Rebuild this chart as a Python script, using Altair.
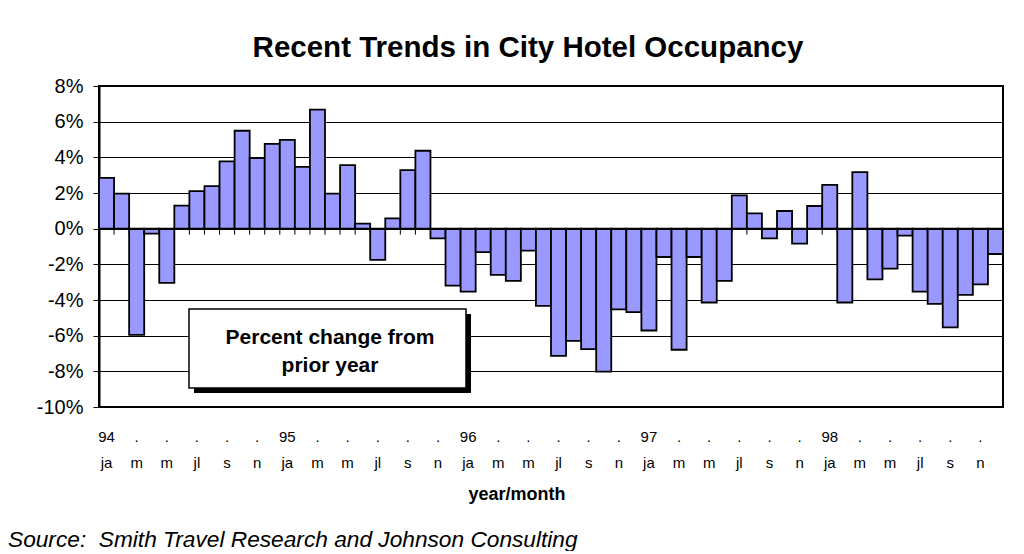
import altair as alt
import pandas as pd

# ---- data ----
years = ["94", "95", "96", "97", "98"]
months_shown = ["ja", "m", "m", "jl", "s", "n"]
values = [
    2.85, 1.96, -5.95, -0.28, -3.04, 1.29, 2.11, 2.39, 3.77, 5.49, 3.96, 4.76,   # 1994
    4.98, 3.47, 6.68, 1.96, 3.56, 0.28, -1.75, 0.58, 3.28, 4.37, -0.54, -3.19,   # 1995
    -3.53, -1.32, -2.59, -2.93, -1.23, -4.33, -7.13, -6.29, -6.75, -8.02, -4.53, -4.68,  # 1996
    -5.71, -1.59, -6.79, -1.59, -4.14, -2.93, 1.87, 0.86, -0.54, 0.99, -0.84, 1.27,  # 1997
    2.46, -4.14, 3.17, -2.84, -2.24, -0.39, -3.53, -4.22, -5.54, -3.71, -3.12, -1.42,  # 1998
]
y_ticks = [-10, -8, -6, -4, -2, 0, 2, 4, 6, 8]
title_text = "Recent Trends in City Hotel Occupancy"
box_lines = ["Percent change from", "prior year"]
x_title = "year/month"
source_text = "Source:\u00a0\u00a0Smith Travel Research and Johnson Consulting"

rows = []
for i, v in enumerate(values):
    yr = years[i // 12]
    m = i % 12
    yr_lbl = yr if m == 0 else ("." if m % 2 == 0 else "")
    mo_lbl = months_shown[m // 2] if m % 2 == 0 else ""
    rows.append({"idx": i, "value": v, "zero": 0, "yr_lbl": yr_lbl, "mo_lbl": mo_lbl})
df = pd.DataFrame(rows)

FONT = "Liberation Sans, Arial, sans-serif"
NARROW = "Liberation Sans Narrow, Liberation Sans, Arial, sans-serif"

xscale = alt.Scale(paddingInner=0, paddingOuter=0)
yscale = alt.Scale(domain=[-10, 8], nice=False, zero=False)

x_enc = alt.X("idx:O", scale=xscale, axis=None)

yaxis = alt.Axis(
    values=y_ticks, labelExpr="datum.value + '%'", title=None,
    labelFont=FONT, labelFontSize=20, labelColor="black", labelPadding=10,
    tickColor="black", tickSize=6, tickWidth=1,
    domainColor="black", domainWidth=2,
    gridColor="black", gridWidth=1, gridOpacity=1,
)

base = alt.Chart(df)

ticks = base.mark_rule(color="black", strokeWidth=1, y2Offset=6).encode(
    x=alt.X("idx:O", scale=xscale, axis=None, bandPosition=0),
    y=alt.Y("zero:Q", scale=yscale, axis=yaxis),
    y2=alt.Y2("zero:Q"),
)

bars = base.mark_bar(fill="#9999FF", stroke="black", strokeWidth=1.8, opacity=1).encode(
    x=x_enc,
    y=alt.Y("value:Q", scale=yscale, axis=yaxis),
    y2=alt.Y2("zero:Q"),
)

zero = base.mark_rule(color="black", strokeWidth=1.5).encode(
    y=alt.Y("zero:Q", scale=yscale, axis=yaxis),
)

yr_text = base.transform_filter("datum.yr_lbl != ''").mark_text(
    font=NARROW, fontSize=15, color="black", baseline="middle", align="center"
).encode(x=x_enc, y=alt.value(351), text="yr_lbl:N")

mo_text = base.transform_filter("datum.mo_lbl != ''").mark_text(
    font=NARROW, fontSize=15, color="black", baseline="middle", align="center"
).encode(x=x_enc, y=alt.value(377), text="mo_lbl:N")

one = alt.Data(values=[{"k": 0}])

shadow = alt.Chart(one).mark_rect(fill="black").encode(
    x=alt.value(95), x2=alt.value(372), y=alt.value(228), y2=alt.value(307)
)
box = alt.Chart(one).mark_rect(fill="white", stroke="black", strokeWidth=1.5).encode(
    x=alt.value(90), x2=alt.value(367), y=alt.value(223), y2=alt.value(302)
)
box_text = alt.Chart(pd.DataFrame({"t": ["\n".join(box_lines)]})).mark_text(
    font=FONT, fontSize=21, fontWeight="bold", color="black", baseline="middle",
    align="center", lineBreak="\n", lineHeight=28,
).encode(x=alt.value(231), y=alt.value(252), text="t:N")

title = alt.Chart(pd.DataFrame({"t": [title_text]})).mark_text(
    font=FONT, fontSize=29.5, fontWeight="bold", color="black", baseline="alphabetic", align="center"
).encode(x=alt.value(429), y=alt.value(-29), text="t:N")

xtitle = alt.Chart(pd.DataFrame({"t": [x_title]})).mark_text(
    font=FONT, fontSize=18, fontWeight="bold", color="black", baseline="middle", align="center"
).encode(x=alt.value(418), y=alt.value(409), text="t:N")

source = alt.Chart(pd.DataFrame({"t": [source_text]})).mark_text(
    font=FONT, fontSize=22.7, fontStyle="italic", color="black", baseline="alphabetic", align="left"
).encode(x=alt.value(-91), y=alt.value(461), text="t:N")

chart = alt.layer(
    ticks, bars, zero, yr_text, mo_text, shadow, box, box_text, title, xtitle, source
).properties(
    width=904, height=321,
    autosize=alt.AutoSizeParams(type="none"),
    padding={"left": 91, "top": 78, "right": 13, "bottom": 144},
    background="white",
).configure_view(
    stroke="black", strokeWidth=2
)

chart.save("out.html", embed_options={"renderer": "svg", "actions": False})
